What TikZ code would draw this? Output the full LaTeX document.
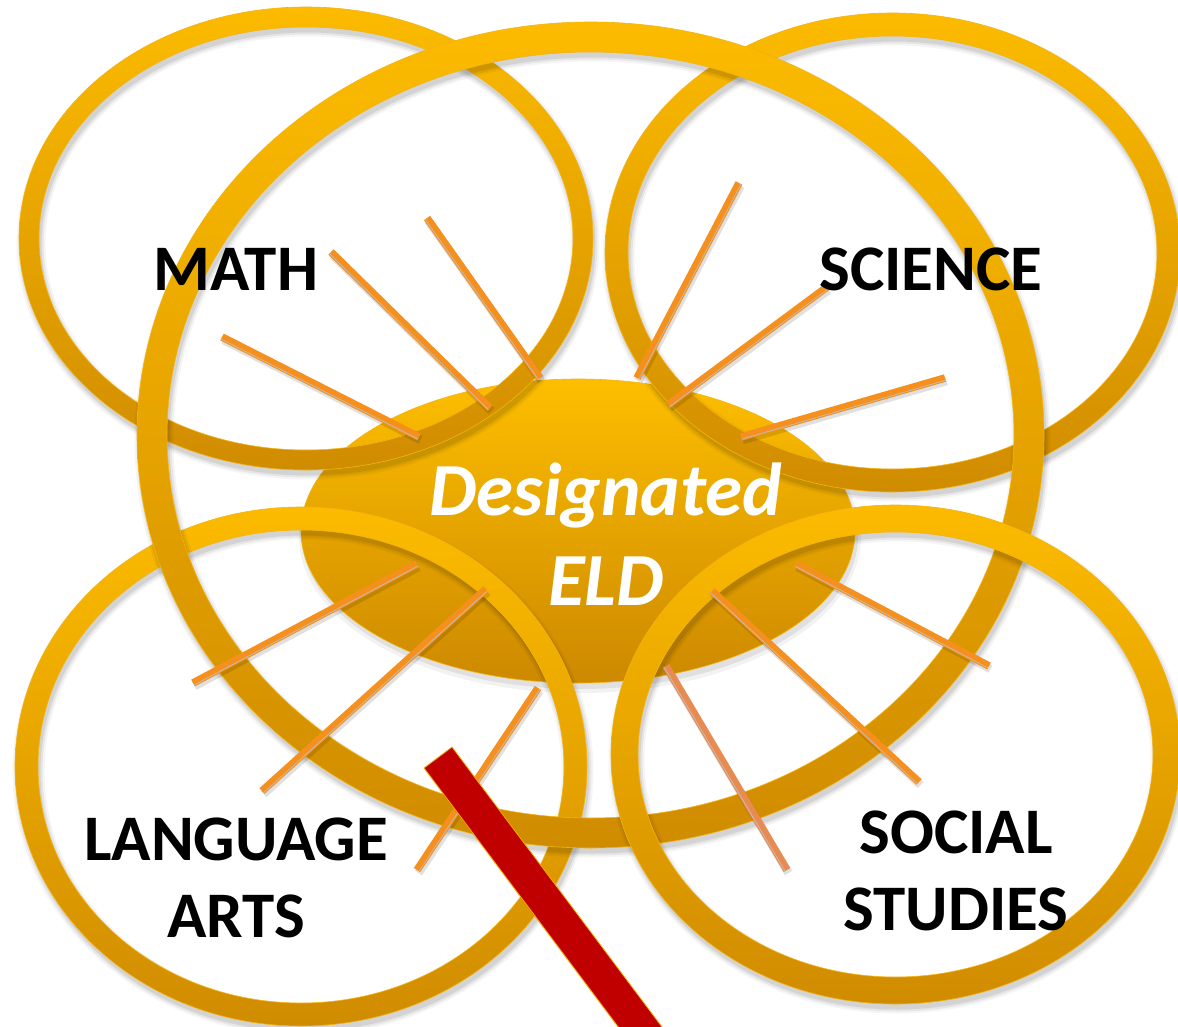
\documentclass[tikz,border=0pt]{standalone}
\usepackage{fontspec}
\setmainfont{Carlito}
\usetikzlibrary{calc}
\definecolor{ringtop}{HTML}{FCBB00}
\definecolor{ringbot}{HTML}{D08C00}
\definecolor{ringedge}{HTML}{F4B410}
\definecolor{eltop}{HTML}{FDBE00}
\definecolor{elbot}{HTML}{CD8900}
\definecolor{spokeor}{HTML}{F5901E}
\definecolor{spokesal}{HTML}{E98A50}
\definecolor{spokegr}{HTML}{C4BCB0}
\definecolor{barred}{HTML}{C00000}
\definecolor{baredge}{HTML}{F0B400}

\newcommand\goldring[4]{%
  \pgfmathsetmacro\ringrxo{#2+#4/2}%
  \pgfmathsetmacro\ringryo{#3+#4/2}%
  \pgfmathsetmacro\ringrxi{#2-#4/2}%
  \pgfmathsetmacro\ringryi{#3-#4/2}%
  \pgfmathsetmacro\ringwa{#4+9}%
  \pgfmathsetmacro\ringwb{#4+5}%
  \pgfmathsetmacro\ringwc{#4+1}%
  \draw[black, opacity=0.04, line width=\ringwa pt] ([shift={(2,5)}]#1) ellipse [x radius=#2pt, y radius=#3pt];
  \draw[black, opacity=0.06, line width=\ringwb pt] ([shift={(2,5)}]#1) ellipse [x radius=#2pt, y radius=#3pt];
  \draw[black, opacity=0.08, line width=\ringwc pt] ([shift={(2,5)}]#1) ellipse [x radius=#2pt, y radius=#3pt];
  \path[shade, top color=ringtop, bottom color=ringbot, even odd rule, draw=ringedge, line width=0.6pt]
    (#1) ellipse [x radius=\ringrxo pt, y radius=\ringryo pt]
    (#1) ellipse [x radius=\ringrxi pt, y radius=\ringryi pt];
}
\newcommand\spokeline[3]{%
  \draw[black, opacity=0.12, line width=8.5pt] ([shift={(1.5,3)}]#1) -- ([shift={(1.5,3)}]#2);
  \draw[#3, line width=7.6pt] (#1) -- (#2);
  \draw[spokegr, line width=0.8pt] ($(#1)!2.3pt!90:(#2)$) -- ($(#2)!2.3pt!-90:(#1)$);
}

\begin{document}
\begin{tikzpicture}[x=1pt, y=-1pt,
  lbl/.style={font=\bfseries\fontsize{65}{77}\selectfont, text=black, inner sep=0pt, align=center},
  eld/.style={font=\bfseries\itshape\fontsize{75}{90}\selectfont, text=white, inner sep=0pt, align=center}]
\fill[white] (0,0) rectangle (1178,1027);
\useasboundingbox (0,0) rectangle (1178,1027);

% centres
\coordinate (ec) at (578,531);
\coordinate (mc) at (306,238.5);
\coordinate (bc) at (590.5,435);
\coordinate (sc) at (892.5,252.5);
\coordinate (lc) at (301,766.5);
\coordinate (tc) at (895.5,754.5);

% central ellipse
\fill[black, opacity=0.05] ([shift={(2,6)}]ec) ellipse [x radius=281pt, y radius=156pt];
\fill[black, opacity=0.07] ([shift={(2,5)}]ec) ellipse [x radius=278pt, y radius=153pt];
\path[shade, top color=eltop, bottom color=elbot, draw=ringedge, line width=0.6pt]
  (ec) ellipse [x radius=277pt, y radius=152pt];

% rings
\goldring{lc}{274.5}{248}{23}
\goldring{mc}{277}{221.5}{20}
\goldring{sc}{276}{228}{23}
\goldring{bc}{438.5}{398}{30}
\goldring{tc}{271}{236}{27}

% spokes
\coordinate (s1a) at (419,437);  \coordinate (s1b) at (222,337);
\coordinate (s2a) at (490,408);  \coordinate (s2b) at (331,252);
\coordinate (s3a) at (540,378);  \coordinate (s3b) at (427,218);
\coordinate (s4a) at (739,183);  \coordinate (s4b) at (637,378);
\coordinate (s5a) at (827,287);  \coordinate (s5b) at (668,405);
\coordinate (s6a) at (945,378);  \coordinate (s6b) at (741,437);
\coordinate (s7a) at (417,564);  \coordinate (s7b) at (193,683);
\coordinate (s8a) at (486,589);  \coordinate (s8b) at (262,791);
\coordinate (s9a) at (538,688);  \coordinate (s9b) at (417,870);
\coordinate (s10a) at (989,666); \coordinate (s10b) at (796,564);
\coordinate (s11a) at (919,782); \coordinate (s11b) at (712,591);
\coordinate (s12a) at (787,870); \coordinate (s12b) at (666,666);
\spokeline{s1a}{s1b}{spokeor}
\spokeline{s2a}{s2b}{spokeor}
\spokeline{s3a}{s3b}{spokeor}
\spokeline{s4a}{s4b}{spokeor}
\spokeline{s5a}{s5b}{spokeor}
\spokeline{s6a}{s6b}{spokeor}
\spokeline{s7a}{s7b}{spokeor}
\spokeline{s8a}{s8b}{spokeor}
\spokeline{s9a}{s9b}{spokeor}
\spokeline{s10a}{s10b}{spokeor}
\spokeline{s11a}{s11b}{spokeor}
\spokeline{s12a}{s12b}{spokesal}

% labels
\node[lbl, anchor=base] (math) at (236,290) {MATH};
\node[lbl, anchor=base] (sci) at (931,290) {SCIENCE};
\node[lbl, anchor=base] (la) at (236,937) {LANGUAGE\\ARTS};
\node[lbl, anchor=base] (ss) at (956,930) {SOCIAL\\STUDIES};
\node[eld, anchor=base] (eldtxt) at (606,605) {Designated\\ELD};

% red bar
\coordinate (r1) at (424,768);
\coordinate (r2) at (452,747);
\coordinate (r3) at (704,1083);
\coordinate (r4) at (676,1104);
\fill[black, opacity=0.10] ([shift={(2,4)}]r1) -- ([shift={(2,4)}]r2) -- ([shift={(2,4)}]r3) -- ([shift={(2,4)}]r4) -- cycle;
\filldraw[fill=barred, draw=baredge, line width=0.8pt] (r1) -- (r2) -- (r3) -- (r4) -- cycle;
\end{tikzpicture}
\end{document}
